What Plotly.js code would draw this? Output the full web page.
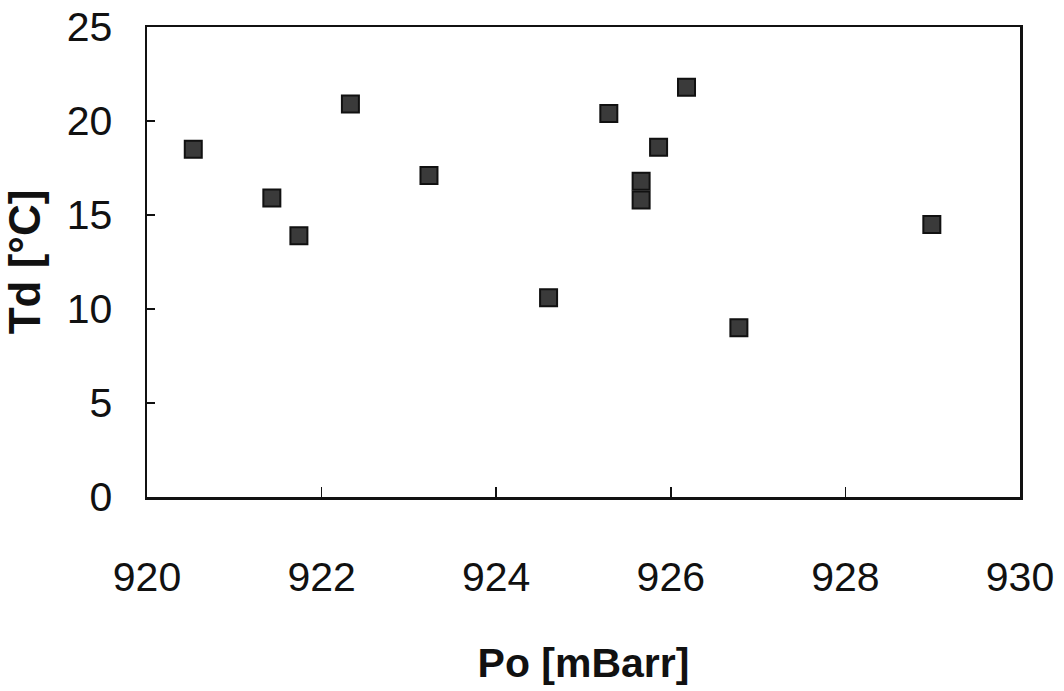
<!DOCTYPE html>
<html>
<head>
<meta charset="utf-8">
<script src="https://cdn.plot.ly/plotly-3.0.1.min.js"></script>
<style>html,body{margin:0;padding:0;background:#fff;}#chart{width:1064px;height:691px;}</style>
</head>
<body>
<div id="chart"></div>
<script>
var pressure = [920.53, 921.43, 921.74, 922.33, 923.23, 924.6, 925.29, 925.66, 925.66, 925.86, 926.18, 926.78, 928.99];
var dewPoint = [18.5, 15.9, 13.9, 20.9, 17.1, 10.6, 20.4, 16.8, 15.8, 18.6, 21.8, 9.0, 14.5];
var xTicks = [920, 922, 924, 926, 928, 930];
var yTicks = [0, 5, 10, 15, 20, 25];

var trace = {
  x: pressure, y: dewPoint, type: 'scatter', mode: 'markers',
  marker: {symbol: 'square', size: 17, color: '#3a3a3a', line: {color: '#111', width: 2}},
  showlegend: false, hoverinfo: 'x+y'
};

var layout = {
  width: 1064, height: 691,
  margin: {l: 147, r: 44, t: 27, b: 194},
  paper_bgcolor: '#ffffff', plot_bgcolor: '#ffffff',
  font: {family: 'Liberation Sans, Arial, sans-serif', color: '#111'},
  xaxis: {
    range: [920, 930], tickvals: xTicks, ticktext: xTicks.map(String),
    showgrid: false, zeroline: false, showline: true, mirror: true,
    linecolor: '#111', linewidth: 2.5, ticks: 'inside', ticklen: 10, tickwidth: 1.5, tickcolor: '#111',
    tickfont: {size: 41, color: '#111'}, ticklabelstandoff: 42,
    title: {text: 'Po [mBarr]', font: {size: 41, color: '#111', family: 'Liberation Sans, Arial, sans-serif', weight: 'bold'}, standoff: 50}
  },
  yaxis: {
    range: [0, 25], tickvals: yTicks, ticktext: yTicks.map(String),
    showgrid: false, zeroline: false, showline: true, mirror: true,
    linecolor: '#111', linewidth: 2.5, ticks: 'inside', ticklen: 8, tickwidth: 1.5, tickcolor: '#111',
    tickfont: {size: 41, color: '#111'}, ticklabelstandoff: 24,
    title: {text: 'Td [°C]', font: {size: 44, color: '#111', family: 'Liberation Sans, Arial, sans-serif', weight: 'bold'}, standoff: 16}
  }
};

Plotly.newPlot('chart', [trace], layout, {displayModeBar: false, staticPlot: true});
</script>
</body>
</html>
